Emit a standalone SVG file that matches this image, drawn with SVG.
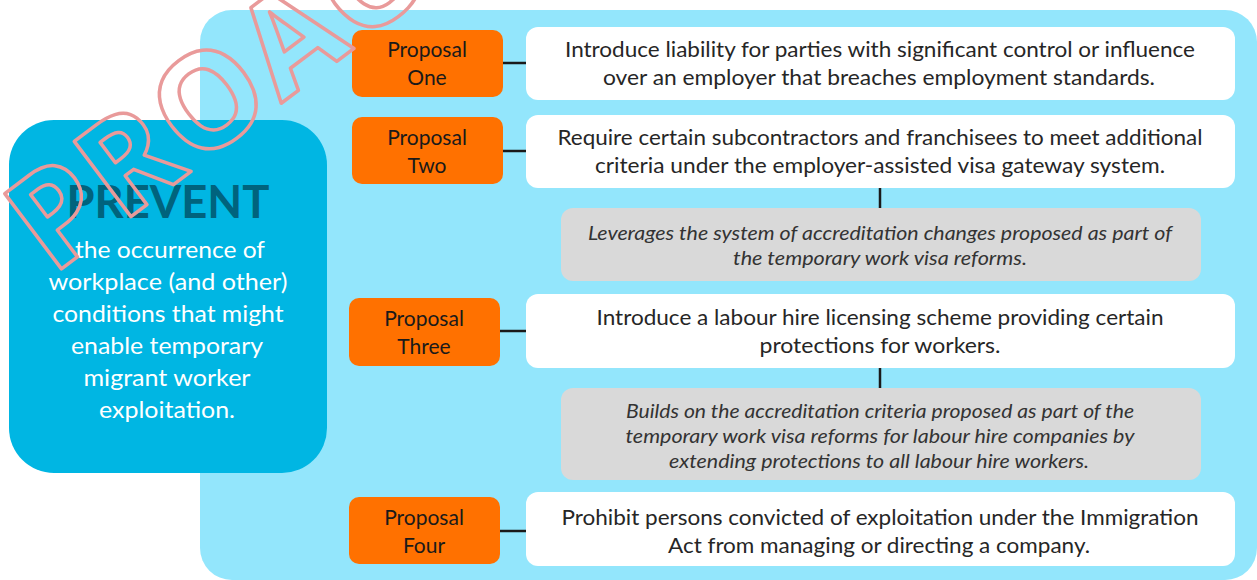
<svg xmlns="http://www.w3.org/2000/svg" width="1257" height="580" viewBox="0 0 1257 580">
<style>
.panel{fill:#93E6FC}
.prevent{fill:#00B6E3}
.orange{fill:#FF7100}
.white{fill:#FFFFFF}
.gray{fill:#D9D9D9}
.conn{stroke:#1A1A1A;stroke-width:2.5;fill:none}
.t{font-family:Lato,"Open Sans",sans-serif;font-size:21px;fill:#262626;text-anchor:middle}
.o{font-family:Lato,"Open Sans",sans-serif;font-size:21px;fill:#1A1A1A;text-anchor:middle}
.g{font-family:Lato,"Open Sans",sans-serif;font-size:19px;font-style:italic;fill:#333333;text-anchor:middle}
.w{font-family:Lato,"Open Sans",sans-serif;font-size:24px;fill:#FFFFFF;text-anchor:middle}
.h{font-family:Lato,"Open Sans",sans-serif;font-size:46px;font-weight:700;fill:#00637D;text-anchor:middle}
.wm{font-family:"Open Sans",sans-serif;font-size:132px;font-weight:700;letter-spacing:4px;fill:none;stroke:#E99A9A;stroke-width:3.5;stroke-linejoin:round}
</style>
<rect class="panel" x="200" y="10" width="1057" height="570" rx="32"/>
<g id="prevent">
<rect class="prevent" x="9" y="120" width="318" height="353" rx="45"/>
<text class="h" x="168" y="218" textLength="203" lengthAdjust="spacingAndGlyphs">PREVENT</text>
<text class="w" x="170" y="258" textLength="190" lengthAdjust="spacingAndGlyphs">the occurrence of</text>
<text class="w" x="168" y="290" textLength="239" lengthAdjust="spacingAndGlyphs">workplace (and other)</text>
<text class="w" x="168" y="322" textLength="231" lengthAdjust="spacingAndGlyphs">conditions that might</text>
<text class="w" x="167" y="354" textLength="192" lengthAdjust="spacingAndGlyphs">enable temporary</text>
<text class="w" x="167" y="386" textLength="167" lengthAdjust="spacingAndGlyphs">migrant worker</text>
<text class="w" x="167" y="418" textLength="136" lengthAdjust="spacingAndGlyphs">exploitation.</text>
</g>
<g id="connectors">
<line class="conn" x1="503" y1="63" x2="526" y2="63"/>
<line class="conn" x1="503" y1="151" x2="526" y2="151"/>
<line class="conn" x1="500" y1="331" x2="526" y2="331"/>
<line class="conn" x1="500" y1="531" x2="526" y2="531"/>
<line class="conn" x1="880" y1="188" x2="880" y2="208"/>
<line class="conn" x1="880" y1="368" x2="880" y2="388"/>
</g>
<g id="proposal-one">
<rect class="orange" x="352" y="30" width="151" height="67" rx="10"/>
<text class="o" x="427" y="57">Proposal</text>
<text class="o" x="427" y="85">One</text>
</g>
<g id="proposal-one-text">
<rect class="white" x="526" y="27" width="709" height="73" rx="12"/>
<text class="t" x="880" y="57" textLength="630" lengthAdjust="spacingAndGlyphs">Introduce liability for parties with significant control or influence</text>
<text class="t" x="879" y="85" textLength="552" lengthAdjust="spacingAndGlyphs">over an employer that breaches employment standards.</text>
</g>
<g id="proposal-two">
<rect class="orange" x="352" y="117" width="151" height="67" rx="10"/>
<text class="o" x="427" y="145">Proposal</text>
<text class="o" x="427" y="173">Two</text>
</g>
<g id="proposal-two-text">
<rect class="white" x="526" y="115" width="709" height="73" rx="12"/>
<text class="t" x="880" y="145" textLength="645" lengthAdjust="spacingAndGlyphs">Require certain subcontractors and franchisees to meet additional</text>
<text class="t" x="880" y="173" textLength="570" lengthAdjust="spacingAndGlyphs">criteria under the employer-assisted visa gateway system.</text>
</g>
<g id="note-two">
<rect class="gray" x="561" y="208" width="640" height="73" rx="12"/>
<text class="g" x="880" y="240" textLength="584" lengthAdjust="spacingAndGlyphs">Leverages the system of accreditation changes proposed as part of</text>
<text class="g" x="880" y="265" textLength="294" lengthAdjust="spacingAndGlyphs">the temporary work visa reforms.</text>
</g>
<g id="proposal-three">
<rect class="orange" x="349" y="298" width="151" height="68" rx="10"/>
<text class="o" x="424" y="326">Proposal</text>
<text class="o" x="424" y="354">Three</text>
</g>
<g id="proposal-three-text">
<rect class="white" x="526" y="294" width="709" height="74" rx="12"/>
<text class="t" x="880" y="325" textLength="567" lengthAdjust="spacingAndGlyphs">Introduce a labour hire licensing scheme providing certain</text>
<text class="t" x="880" y="353" textLength="241" lengthAdjust="spacingAndGlyphs">protections for workers.</text>
</g>
<g id="note-three">
<rect class="gray" x="561" y="388" width="640" height="92" rx="12"/>
<text class="g" x="880" y="418" textLength="508" lengthAdjust="spacingAndGlyphs">Builds on the accreditation criteria proposed as part of the</text>
<text class="g" x="880" y="443" textLength="509" lengthAdjust="spacingAndGlyphs">temporary work visa reforms for labour hire companies by</text>
<text class="g" x="879" y="468" textLength="420" lengthAdjust="spacingAndGlyphs">extending protections to all labour hire workers.</text>
</g>
<g id="proposal-four">
<rect class="orange" x="349" y="497" width="151" height="67" rx="10"/>
<text class="o" x="424" y="525">Proposal</text>
<text class="o" x="424" y="553">Four</text>
</g>
<g id="proposal-four-text">
<rect class="white" x="526" y="492" width="709" height="74" rx="12"/>
<text class="t" x="880" y="525" textLength="637" lengthAdjust="spacingAndGlyphs">Prohibit persons convicted of exploitation under the Immigration</text>
<text class="t" x="879" y="553" textLength="422" lengthAdjust="spacingAndGlyphs">Act from managing or directing a company.</text>
</g>
<text class="wm" transform="translate(52,276) rotate(-37)">PROACTIVE</text>
</svg>
